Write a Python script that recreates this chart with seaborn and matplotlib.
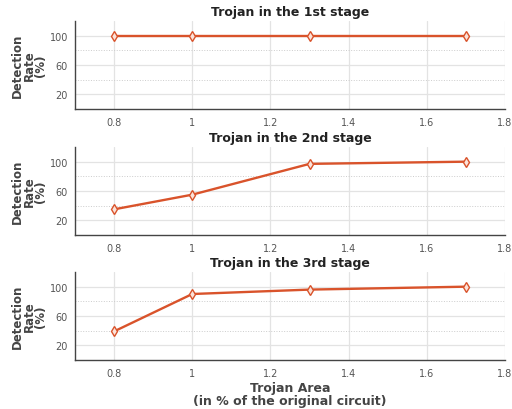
import matplotlib
matplotlib.use("Agg")
import matplotlib.pyplot as plt
import seaborn as sns
import pandas as pd
from matplotlib.ticker import FuncFormatter, FixedLocator

# Data
area = [0.8, 1.0, 1.3, 1.7]
stage1 = [100, 100, 100, 100]
stage2 = [35, 55, 97, 100]
stage3 = [39, 90, 96, 100]
titles = ["Trojan in the 1st stage", "Trojan in the 2nd stage", "Trojan in the 3rd stage"]
series = [stage1, stage2, stage3]

sns.set_theme(style="white")
plt.rcParams['font.family'] = ['DejaVu Sans']

line_color = "#d9532b"

fig = plt.figure(figsize=(5.12, 4.1), dpi=100)
tops = [22, 148, 273]
h = 88
for i, (vals, title) in enumerate(zip(series, titles)):
    top = tops[i]
    ax = fig.add_axes([75 / 512, 1 - (top + h) / 410, 430 / 512, h / 410])
    df = pd.DataFrame({'area': area, 'rate': vals})
    sns.lineplot(data=df, x='area', y='rate', ax=ax, color=line_color, lw=1.7,
                 marker='d', markersize=5, markerfacecolor='#fbe3da',
                 markeredgecolor=line_color, markeredgewidth=1.0)
    ax.set_xlim(0.7, 1.8)
    ax.set_ylim(0, 120)
    ax.set_yticks([20, 60, 100])
    ax.yaxis.set_minor_locator(FixedLocator([40, 80]))
    ax.set_xticks([0.8, 1.0, 1.2, 1.4, 1.6, 1.8])
    ax.xaxis.set_major_formatter(FuncFormatter(lambda v, p: f"{v:g}"))
    ax.grid(True, which='major', color='#e3e3e3', lw=0.9)
    ax.grid(True, which='minor', axis='y', color='#cccccc', lw=0.7, ls=':')
    ax.tick_params(axis='x', which='major', direction='in', length=3,
                   labelsize=7, colors='#555555', pad=6)
    ax.tick_params(axis='y', which='major', length=0, labelsize=7,
                   colors='#555555', pad=5)
    ax.tick_params(axis='y', which='minor', length=0)
    for s in ['top', 'right']:
        ax.spines[s].set_visible(False)
    for s in ['left', 'bottom']:
        ax.spines[s].set_color('#444444')
        ax.spines[s].set_linewidth(1.0)
    ax.set_title(title, fontsize=9, fontweight='bold', color='#222222', pad=4)
    ax.set_ylabel("Detection\nRate\n(%)", fontsize=8.5, fontweight='bold',
                  color='#444444', linespacing=0.85, labelpad=2)
    if i == 2:
        ax.set_xlabel("Trojan Area\n(in % of the original circuit)", fontsize=9,
                      fontweight='bold', color='#444444', linespacing=1.0, labelpad=2)
    else:
        ax.set_xlabel("")

fig.savefig("out.png", dpi=100)
